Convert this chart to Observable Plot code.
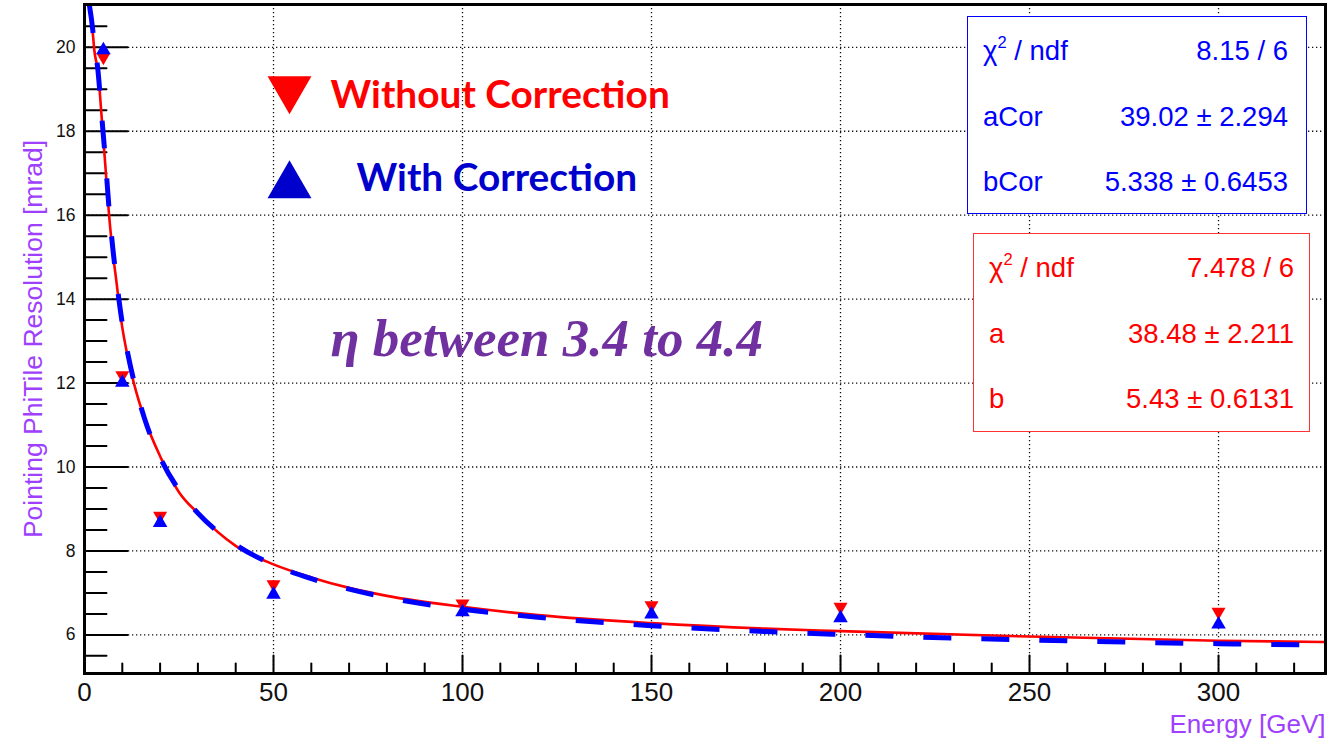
<!DOCTYPE html>
<html><head><meta charset="utf-8">
<script src="https://cdn.jsdelivr.net/npm/d3@7"></script>
<script src="https://cdn.jsdelivr.net/npm/@observablehq/plot@0.6"></script>
<style>
html,body{margin:0;padding:0;background:#fff;}
#wrap{position:relative;width:1332px;height:740px;overflow:hidden;background:#fff;}
.stat{position:absolute;box-sizing:border-box;background:#fff;font-family:"Liberation Sans",Arial,sans-serif;font-size:27.5px;line-height:1;}
.stat .row{position:absolute;left:15px;display:flex;justify-content:space-between;white-space:nowrap;}
.stat sup{font-size:0.6em;vertical-align:0.75em;line-height:0;}
</style></head><body><div id="wrap"></div>
<script>
// ---- data ----
const energies   = [5, 10, 20, 50, 100, 150, 200, 300];
const resWithout = [19.72, 12.14, 8.79, 7.16, 6.70, 6.66, 6.62, 6.50];
const resWith    = [19.98, 12.06, 8.72, 7.01, 6.59, 6.54, 6.45, 6.30];

const fitEnergy  = [1.3, 2.2, 2.6, 3.5, 4.0, 4.4, 4.8, 5.5, 6.5, 7.5, 8.4, 9.7, 11.5, 13.2, 15.9, 20.3, 25, 30, 40, 50, 60, 70, 80, 100, 120, 150, 180, 200, 250, 300, 328];
const fitWithout = [21.0, 20.33, 19.93, 19.45, 18.98, 18.5, 18.03, 17.2, 16.0, 15.1, 14.45, 13.5, 12.6, 11.95, 11.15, 10.2, 9.4, 8.9, 8.12, 7.68, 7.37, 7.12, 6.93, 6.67, 6.47, 6.28, 6.15, 6.09, 5.96, 5.86, 5.83];
const fitWith    = [21.0, 20.4, 20.0, 19.5, 19.0, 18.55, 18.1, 17.35, 16.15, 15.2, 14.5, 13.6, 12.68, 12.0, 11.15, 10.17, 9.45, 8.9, 8.15, 7.67, 7.34, 7.09, 6.89, 6.61, 6.42, 6.22, 6.08, 6.01, 5.88, 5.79, 5.76];

const xMajor = [0, 50, 100, 150, 200, 250, 300];
const xMinor = [10,20,30,40,60,70,80,90,110,120,130,140,160,170,180,190,210,220,230,240,260,270,280,290,310,320];
const yMajor = [6, 8, 10, 12, 14, 16, 18, 20];
const yMinor = [5.5,6.5,7,7.5,8.5,9,9.5,10.5,11,11.5,12.5,13,13.5,14.5,15,15.5,16.5,17,17.5,18.5,19,19.5,20.5];

const statCorLabels = ["χ<sup>2</sup> / ndf", "aCor", "bCor"];
const statCorValues = ["8.15 / 6", "39.02 ± 2.294", "5.338 ± 0.6453"];
const statLabels    = ["χ<sup>2</sup> / ndf", "a", "b"];
const statValues    = ["7.478 / 6", "38.48 ± 2.211", "5.43 ± 0.6131"];

const legendLabels = ["Without Correction", "With Correction"];
const regionText = "η between 3.4 to 4.4";
const xTitle = "Energy [GeV]";
const yTitle = "Pointing PhiTile Resolution [mrad]";

// ---- tables ----
const points = energies.map((e, i) => ({e, without: resWithout[i], with: resWith[i]}));
const fits = fitEnergy.map((e, i) => ({e, without: fitWithout[i], with: fitWith[i]}));

const RED = "#ff0000", BLUE = "#0000ff", VIOLET = "#a040ff";
const tickShape = {draw(ctx, l) { ctx.moveTo(0, 0); ctx.lineTo(0, -l); }};

const chart = Plot.plot({
  width: 1332, height: 740,
  marginLeft: 84, marginRight: 7, marginTop: 4, marginBottom: 67,
  style: {fontFamily: "'Liberation Sans', Arial, sans-serif", background: "white", overflow: "visible"},
  x: {domain: [0, 328.3], label: null},
  y: {domain: [5.08, 21.02], label: null},
  marks: [
    Plot.gridX(xMajor.slice(1), {stroke: "#111", strokeOpacity: 1, strokeWidth: 1.3, strokeDasharray: "1.3,2.7"}),
    Plot.gridY(yMajor, {stroke: "#111", strokeOpacity: 1, strokeWidth: 1.3, strokeDasharray: "1.3,2.7"}),
    // ticks (inward)
    Plot.vector(xMajor, {x: d => d, frameAnchor: "bottom", length: 18, rotate: 0, anchor: "start", shape: tickShape, stroke: "black", strokeWidth: 2}),
    Plot.vector(xMinor, {x: d => d, frameAnchor: "bottom", length: 10, rotate: 0, anchor: "start", shape: tickShape, stroke: "black", strokeWidth: 2}),
    Plot.vector(yMajor, {y: d => d, frameAnchor: "left", length: 43, rotate: 90, anchor: "start", shape: tickShape, stroke: "black", strokeWidth: 2}),
    Plot.vector(yMinor, {y: d => d, frameAnchor: "left", length: 22, rotate: 90, anchor: "start", shape: tickShape, stroke: "black", strokeWidth: 2}),
    Plot.axisX(xMajor, {tickSize: 0, tickPadding: 9, fontSize: 26, fill: "#111", label: null}),
    Plot.axisY(yMajor, {tickSize: 0, tickPadding: 9, fontSize: 17.5, fill: "#111", label: null}),
    // fit curves
    Plot.line(fits, {x: "e", y: "without", stroke: RED, strokeWidth: 2.6, curve: "monotone-x", clip: true}),
    Plot.line(fits, {x: "e", y: "with", stroke: BLUE, strokeWidth: 5, strokeDasharray: "28,30", strokeLinecap: "butt", curve: "monotone-x", clip: true}),
    // data points
    Plot.dot(points, {x: "e", y: "without", symbol: "triangle", rotate: 180, r: 5.2, fill: RED, stroke: "none", dy: -2}),
    Plot.dot(points, {x: "e", y: "with", symbol: "triangle", r: 5.4, fill: BLUE, stroke: "none", dy: 2}),
    // frame
    Plot.frame({stroke: "black", strokeWidth: 3}),
    // legend
    Plot.dot([0], {frameAnchor: "top-left", dx: 205, dy: 84.5, symbol: "triangle", rotate: 180, r: 16.3, fill: "#ff0000", stroke: "none"}),
    Plot.dot([0], {frameAnchor: "top-left", dx: 205, dy: 181, symbol: "triangle", r: 16.3, fill: "#0000cc", stroke: "none"}),
    Plot.text([legendLabels[0]], {frameAnchor: "top-left", lineAnchor: "middle", dx: 246, dy: 103 - 0.32 * 38.8, textAnchor: "start", fontSize: 38.8, fontWeight: "bold", fontFamily: "Lato, 'Open Sans', sans-serif", fill: "#ff0000"}),
    Plot.text([legendLabels[1]], {frameAnchor: "top-left", lineAnchor: "middle", dx: 272, dy: 186 - 0.32 * 38.8, textAnchor: "start", fontSize: 38.8, fontWeight: "bold", fontFamily: "Lato, 'Open Sans', sans-serif", fill: "#0000cc"}),
    Plot.text([regionText], {frameAnchor: "top-left", lineAnchor: "middle", dx: 246, dy: 351 - 0.32 * 53, textAnchor: "start", fontSize: 53, fontWeight: "bold", fontStyle: "italic", fontFamily: "'Liberation Serif', 'DejaVu Serif', serif", fill: "#7030a0"}),
    // axis titles
    Plot.text([xTitle], {frameAnchor: "bottom-right", lineAnchor: "middle", dx: 0, dy: 51, textAnchor: "end", fontSize: 26, fill: VIOLET}),
    Plot.text([yTitle], {frameAnchor: "left", lineAnchor: "middle", textAnchor: "middle", dx: -51, rotate: -90, fontSize: 26.5, fill: VIOLET})
  ]
});

const wrap = document.getElementById("wrap");
wrap.appendChild(chart);

function statBox(labels, values, color, border, left, top, width, height, right) {
  const box = document.createElement("div");
  box.className = "stat";
  Object.assign(box.style, {left: left + "px", top: top + "px", width: width + "px", height: height + "px",
    border: `1.5px solid ${border}`, color});
  const rowTops = [20, 86, 151];
  labels.forEach((lab, i) => {
    const row = document.createElement("div");
    row.className = "row";
    row.style.top = rowTops[i] + "px";
    row.style.right = right + "px";
    row.innerHTML = `<span>${lab}</span><span>${values[i]}</span>`;
    box.appendChild(row);
  });
  wrap.appendChild(box);
}
statBox(statCorLabels, statCorValues, BLUE, BLUE, 967, 16, 340, 198, 18);
statBox(statLabels, statValues, "#ff0000", "#ff3333", 973, 233, 337, 199, 15);
</script></body></html>
